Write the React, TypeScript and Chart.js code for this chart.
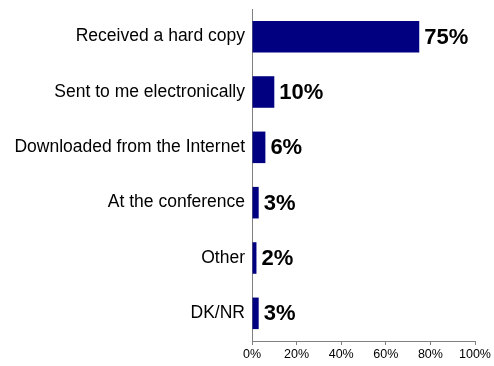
import React, { useEffect, useRef } from "react";
import { Chart, registerables } from "chart.js";

Chart.register(...registerables);

const categories = [
  "Received a hard copy",
  "Sent to me electronically",
  "Downloaded from the Internet",
  "At the conference",
  "Other",
  "DK/NR",
];
const values = [75, 10, 6, 3, 2, 3];
const xTicks = [0, 20, 40, 60, 80, 100];

const FONT = '"Liberation Sans", Arial, Helvetica, sans-serif';

const labelPlugin = {
  id: "valueLabels",
  afterDatasetsDraw(chart: any) {
    const ctx = chart.ctx;
    const meta = chart.getDatasetMeta(0);
    ctx.save();
    ctx.font = `bold 22px ${FONT}`;
    ctx.fillStyle = "#000";
    ctx.textAlign = "left";
    ctx.textBaseline = "middle";
    meta.data.forEach((bar: any, i: number) => {
      ctx.fillText(`${values[i]}%`, bar.x + 5, bar.y + 1);
    });
    ctx.restore();
  },
};

export default function App() {
  const ref = useRef<HTMLCanvasElement | null>(null);
  useEffect(() => {
    if (!ref.current) return;
    const chart = new Chart(ref.current, {
      type: "bar",
      data: {
        labels: categories,
        datasets: [
          {
            data: values,
            backgroundColor: "#000080",
            borderWidth: 0,
            barPercentage: 0.57,
            categoryPercentage: 1,
          },
        ],
      },
      options: {
        indexAxis: "y",
        animation: false,
        responsive: false,
        maintainAspectRatio: false,
        layout: { padding: { top: 9, right: 19, left: 0, bottom: 0 } },
        plugins: { legend: { display: false }, tooltip: { enabled: false } },
        scales: {
          x: {
            min: 0,
            max: 100,
            afterBuildTicks(scale: any) {
              scale.ticks = xTicks.map((v) => ({ value: v }));
            },
            afterFit(scale: any) {
              scale.height = 25;
              scale.paddingLeft = 0;
              scale.paddingRight = 0;
            },
            grid: {
              drawOnChartArea: false,
              drawTicks: true,
              tickLength: 4,
              color: "#808080",
            },
            border: { display: true, color: "#808080", width: 1 },
            ticks: {
              padding: 2,
              color: "#000",
              font: { family: FONT, size: 12.5 },
              maxRotation: 0,
              callback: (v: any) => `${v}%`,
            },
          },
          y: {
            afterFit(scale: any) {
              scale.width = 252;
              scale.paddingTop = 0;
              scale.paddingBottom = 0;
            },
            grid: { display: false, drawTicks: false, tickLength: 0 },
            border: { display: true, color: "#808080", width: 1 },
            ticks: {
              padding: 7,
              color: "#000",
              font: { family: FONT, size: 17.5 },
            },
          },
        },
      },
      plugins: [labelPlugin],
    });
    return () => chart.destroy();
  }, []);
  return (
    <div style={{ position: "absolute", left: 0, top: 0, width: 494, height: 366, background: "#fff" }}>
      <canvas ref={ref} width={494} height={366} style={{ width: 494, height: 366 }} />
    </div>
  );
}
